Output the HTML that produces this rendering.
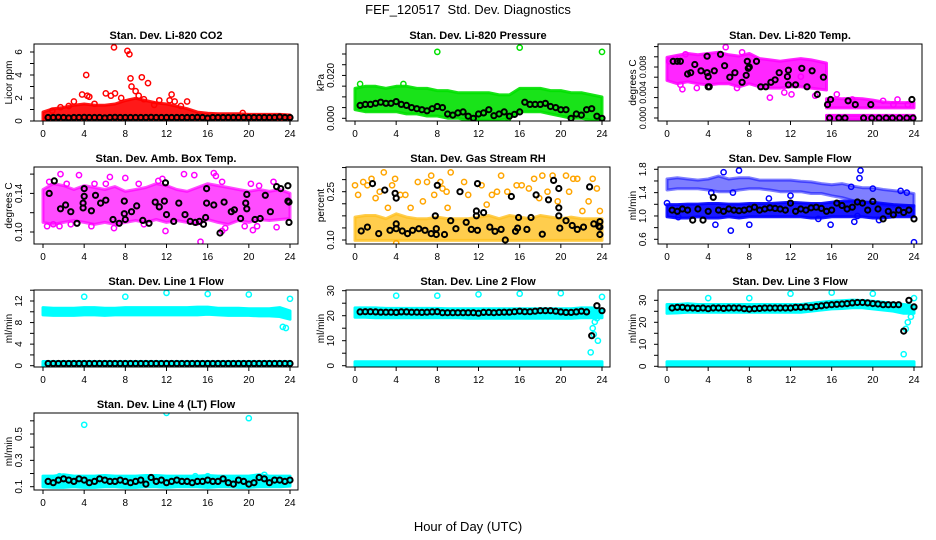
<!DOCTYPE html>
<html><head><meta charset="utf-8"><title>FEF_120517 Std. Dev. Diagnostics</title>
<style>
html,body{margin:0;padding:0;background:#fff;}
svg{display:block;font-family:"Liberation Sans",Arial,sans-serif;}
</style></head>
<body>
<svg id="chart" xmlns="http://www.w3.org/2000/svg" width="936" height="540" viewBox="0 0 936 540">
<rect x="0" y="0" width="936" height="540" fill="#fff"/>
<text x="468" y="14" text-anchor="middle" font-size="13" xml:space="preserve" style="white-space:pre">FEF_120517  Std. Dev. Diagnostics</text>
<text x="468" y="531" text-anchor="middle" font-size="13">Hour of Day (UTC)</text>
</svg>
<script>
// ---------- shared categories ----------
const HRS = [0,1,2,3,4,5,6,7,8,9,10,11,12,13,14,15,16,17,18,19,20,21,22,23,24];
const BX = [0.5,1,1.5,2,2.5,3,3.5,4,4.5,5,5.5,6,6.5,7,7.5,8,8.5,9,9.5,10,10.5,11,11.5,12,12.5,13,13.5,14,14.5,15,15.5,16,16.5,17,17.5,18,18.5,19,19.5,20,20.5,21,21.5,22,22.5,23,23.5,24];
const xTickLabels = [0,4,8,12,16,20,24];

// ---------- P1 CO2 ----------
const co2Lo = [0.1,0.1,0.1,0.1,0.1,0.1,0.1,0.1,0.1,0.1,0.1,0.1,0.1,0.1,0.1,0.1,0.1,0.1,0.1,0.1,0.1,0.1,0.1,0.1,0.1];
const co2Hi = [0.6,0.9,1.0,1.2,1.3,1.2,1.2,1.3,1.6,1.8,1.6,1.4,1.3,1.1,0.9,0.6,0.5,0.45,0.45,0.45,0.4,0.4,0.4,0.4,0.35];
const co2OutX = [6.9,8.2,8.4,4.2,8.5,9.6,10.2,8.6,3.8,4.3,4.5,6.1,7.0,7.6,9.0,9.3,11.3,12.5,12.3,12.8,14.0,3.0,6.6,19.4,1.7,5.0,9.8,13.4,2.5,0.9,10.8];
const co2OutY = [6.4,6.1,5.8,4.0,3.7,3.8,3.3,3.0,2.3,2.2,2.1,2.4,2.4,2.0,2.6,2.2,1.8,2.3,1.8,1.7,1.7,1.7,2.2,0.7,1.2,1.5,1.9,1.3,1.3,0.9,1.4];
const co2Black = [0.3,0.3,0.32,0.3,0.28,0.3,0.3,0.32,0.3,0.3,0.3,0.28,0.3,0.32,0.3,0.3,0.3,0.3,0.3,0.3,0.32,0.3,0.3,0.3,0.3,0.3,0.3,0.3,0.3,0.32,0.3,0.25,0.3,0.3,0.3,0.3,0.3,0.3,0.3,0.3,0.3,0.3,0.3,0.3,0.3,0.35,0.3,0.3];

// ---------- P2 Pressure ----------
const pressLo = [0.005,0.004,0.004,0.004,0.004,0.003,0.003,0.002,0.002,0.001,0.001,0.000,0.000,0.000,0.000,0.001,0.004,0.004,0.004,0.003,0.002,0.001,0.001,0.000,0.000];
const pressHi = [0.013,0.014,0.014,0.013,0.014,0.014,0.013,0.013,0.012,0.012,0.011,0.011,0.011,0.011,0.010,0.010,0.013,0.013,0.013,0.012,0.012,0.011,0.011,0.010,0.009];
const pressOutX = [8,16,24,0.5,4.7,14.9,11.8];
const pressOutY = [0.031,0.033,0.031,0.016,0.016,0.0,0.0];
const pressBlack = [0.006,0.0065,0.0065,0.007,0.0075,0.007,0.007,0.0078,0.0065,0.006,0.005,0.0045,0.004,0.0035,0.0045,0.0055,0.005,0.002,0.0015,0.0025,0.003,0.001,0.0,0.002,0.0025,0.004,0.0012,0.002,0.003,0.001,0.0018,0.003,0.0075,0.0065,0.0065,0.0065,0.007,0.0055,0.005,0.004,0.004,0.0,0.002,0.0015,0.004,0.0045,0.001,0.0];

// ---------- P3 Li-820 Temp ----------
const tempHrs = [0,1,2,3,4,5,6,7,8,9,10,11,12,13,14,15.5];
const tempHi = [0.0092,0.0095,0.0098,0.0096,0.0098,0.0100,0.0096,0.0094,0.0098,0.0090,0.0088,0.0086,0.0088,0.0090,0.0088,0.0083];
const tempLo = [0.0062,0.0057,0.0060,0.0057,0.0055,0.0057,0.0057,0.0052,0.0057,0.0052,0.0050,0.0050,0.0052,0.0052,0.0050,0.0047];
const tempLateHrs = [15.5,16,17,18,19,20,21,22,23,24];
const tempLateLo = [0.0019,0.0019,0.0019,0.0019,0.0019,0.0019,0.0019,0.0019,0.0019,0.0019];
const tempLateHi = [0.0027,0.0028,0.0027,0.0028,0.0027,0.0025,0.0022,0.0021,0.0021,0.0021];
const tempZeroLo = [0,0,0,0,0,0,0,0,0,0];
const tempZeroHi = [0.0001,0.0001,0.0001,0.0001,0.0001,0.0001,0.0001,0.0001,0.0001,0.0001];
const tempOutX = [5.7,0.2,1.3,1.5,2.9,6.8,10.0,11.4,12.1,13.0,14.4,16.5,22.4,18.0,21.0,23.4,22.0,1.8,7.3];
const tempOutY = [0.0111,0.0089,0.0052,0.0045,0.0047,0.0047,0.0032,0.0040,0.0037,0.0065,0.0035,0.0037,0.0029,0.0029,0.0027,0.0021,0.0021,0.0100,0.0103];
const tempBX = [0.6,1.0,1.3,2.0,2.3,2.7,3.3,3.9,3.9,4.0,4.0,4.1,4.6,5.2,5.6,6.1,6.6,7.3,7.7,7.8,7.9,8.0,8.7,9.1,9.6,10.1,10.5,10.9,11.7,11.8,11.8,12.5,13.1,13.6,14.1,14.6,15.2,15.6,15.9,15.8,16.7,17.3,17.6,18.3,19.1,19.8,19.9,20.6,21.3,21.9,22.6,23.3,23.8,23.9];
const tempBY = [0.0089,0.0089,0.0089,0.0069,0.0071,0.0084,0.0074,0.0097,0.0071,0.0065,0.0049,0.0049,0.0074,0.0100,0.0082,0.0064,0.0071,0.0056,0.0067,0.0089,0.0078,0.0080,0.0089,0.0049,0.0049,0.0056,0.0060,0.0071,0.0065,0.0075,0.0052,0.0052,0.0078,0.0049,0.0074,0.0037,0.0064,0.0021,0.0029,0,0,0,0.0027,0.0021,0,0.0021,0,0,0,0,0,0,0.0029,0];

// ---------- P4 Amb Box Temp ----------
const ambLo = [0.112,0.110,0.112,0.114,0.112,0.110,0.112,0.110,0.112,0.114,0.112,0.115,0.112,0.114,0.112,0.110,0.115,0.112,0.110,0.114,0.112,0.115,0.114,0.115,0.116];
const ambHi = [0.142,0.148,0.146,0.142,0.146,0.144,0.142,0.145,0.140,0.142,0.144,0.148,0.146,0.142,0.140,0.144,0.148,0.146,0.144,0.142,0.140,0.142,0.140,0.142,0.138];
const ambOutX = [0.6,1.7,2.3,3.5,5.0,6.1,6.5,8.0,9.3,11.2,11.6,13.7,14.7,16.6,16.8,17.4,20.2,21.0,22.4,0.4,1.0,1.6,4.7,6.9,11.9,15.3,17.4,17.7,19.6,20.4,20.8,22.7,2.7,9.8];
const ambOutY = [0.152,0.160,0.150,0.159,0.150,0.150,0.157,0.156,0.150,0.153,0.155,0.160,0.159,0.161,0.158,0.152,0.150,0.148,0.152,0.106,0.108,0.106,0.106,0.104,0.101,0.090,0.101,0.104,0.106,0.102,0.106,0.105,0.108,0.108];
const ambBX = [0.6,1.1,1.7,2.2,2.7,3.3,3.9,3.9,4.0,4.0,4.7,5.1,5.6,6.1,6.8,7.4,7.9,7.9,8.0,8.6,9.1,9.7,10.3,10.9,11.3,11.8,11.9,12.0,12.7,13.2,13.8,14.3,14.8,15.2,15.6,15.8,15.9,15.9,16.6,17.2,17.6,18.3,18.6,19.2,19.7,19.8,19.8,20.6,21.1,21.6,22.1,22.7,23.1,23.8,23.8,23.9,23.9];
const ambBY = [0.140,0.153,0.124,0.128,0.121,0.109,0.130,0.125,0.137,0.145,0.122,0.138,0.130,0.133,0.113,0.109,0.132,0.119,0.113,0.121,0.127,0.112,0.109,0.131,0.126,0.132,0.151,0.118,0.111,0.130,0.118,0.111,0.110,0.111,0.108,0.115,0.130,0.145,0.128,0.099,0.131,0.121,0.123,0.114,0.130,0.139,0.124,0.113,0.114,0.138,0.121,0.147,0.145,0.148,0.132,0.131,0.110];

// ---------- P5 Gas Stream RH ----------
const rhLo = [0.105,0.105,0.105,0.105,0.105,0.105,0.105,0.105,0.105,0.105,0.105,0.105,0.105,0.105,0.105,0.105,0.105,0.105,0.105,0.105,0.105,0.105,0.105,0.105,0.105];
const rhHi = [0.165,0.17,0.17,0.16,0.175,0.165,0.16,0.16,0.165,0.16,0.16,0.16,0.165,0.17,0.16,0.17,0.165,0.16,0.17,0.165,0.16,0.165,0.16,0.16,0.16];
const rhOutX = [0,0.3,0.8,1.2,1.6,2.0,2.4,2.8,3.2,3.6,3.9,4.4,4.9,5.4,6.1,6.6,7.0,7.4,7.7,8.3,8.5,8.9,9.3,9.0,10.6,11.0,12.3,12.8,13.3,13.8,14.2,14.8,15.4,15.7,16.2,16.9,17.4,17.9,18.2,18.7,19.2,19.7,20.5,20.8,21.2,21.6,22.1,22.7,23.1,23.5,23.8,4.0];
const rhOutY = [0.27,0.24,0.28,0.27,0.29,0.23,0.25,0.31,0.20,0.27,0.29,0.24,0.24,0.20,0.28,0.22,0.28,0.30,0.24,0.28,0.26,0.25,0.31,0.20,0.28,0.24,0.27,0.21,0.24,0.25,0.30,0.25,0.34,0.27,0.27,0.26,0.29,0.23,0.30,0.25,0.30,0.22,0.30,0.25,0.29,0.29,0.19,0.22,0.29,0.26,0.19,0.09];
const rhBX = [0.6,1.2,1.7,2.3,2.9,3.4,3.9,4.0,4.0,4.0,4.6,5.1,5.6,6.2,6.8,7.4,7.8,7.9,7.9,8.0,8.7,9.3,9.8,10.8,10.2,11.3,11.8,11.8,11.9,11.9,12.5,13.1,13.6,14.2,14.6,15.2,15.6,15.8,15.9,16.7,17.1,17.6,18.2,18.8,19.3,19.8,19.8,19.8,19.9,20.5,21.1,21.6,22.2,22.8,23.2,23.7,23.8,23.8,23.8];
const rhBY = [0.128,0.14,0.275,0.12,0.255,0.13,0.245,0.23,0.15,0.135,0.128,0.12,0.13,0.135,0.13,0.12,0.175,0.117,0.135,0.27,0.117,0.16,0.135,0.155,0.25,0.133,0.19,0.175,0.13,0.275,0.185,0.14,0.127,0.133,0.10,0.235,0.127,0.137,0.17,0.133,0.17,0.24,0.118,0.225,0.285,0.26,0.20,0.175,0.137,0.16,0.145,0.133,0.14,0.265,0.15,0.143,0.157,0.14,0.117];

// ---------- P6 Sample Flow ----------
const sfLo = [1.02,1.0,1.0,1.02,1.0,1.0,1.02,1.0,1.02,1.02,1.02,1.02,1.02,1.02,1.0,1.0,1.02,1.02,1.02,1.02,1.0,1.0,1.02,1.02,1.02];
const sfHi = [1.16,1.16,1.17,1.17,1.18,1.18,1.17,1.17,1.18,1.18,1.18,1.19,1.2,1.19,1.18,1.18,1.2,1.22,1.22,1.2,1.2,1.18,1.16,1.15,1.14];
const sfUpLo = [1.48,1.5,1.5,1.5,1.48,1.45,1.45,1.48,1.5,1.5,1.48,1.45,1.45,1.45,1.42,1.42,1.38,1.35,1.3,1.28,1.25,1.22,1.2,1.2,1.2];
const sfUpHi = [1.6,1.62,1.6,1.58,1.6,1.65,1.6,1.62,1.62,1.58,1.58,1.58,1.58,1.56,1.55,1.52,1.5,1.52,1.48,1.45,1.45,1.42,1.4,1.38,1.35];
const sfOutX = [6.2,8.0,4.7,15.9,24,7.0,18.8,5.5,18.7,0,18.2,18.5,20.6,12.0,6.4,4.3,20.0,22.7,1.1,9.9,14.7,17.9,23.3];
const sfOutY = [0.75,0.85,0.85,0.85,0.55,1.78,1.78,1.75,1.65,1.22,0.9,1.0,0.93,1.35,1.4,1.4,1.47,1.43,0.98,1.3,0.95,1.5,1.4];
const sfBlack = [1.1,1.08,1.12,1.1,0.93,1.12,0.93,1.08,1.32,1.1,1.08,1.12,1.1,1.09,1.1,1.12,1.15,1.1,1.12,1.14,1.13,1.12,1.1,1.22,1.08,1.12,1.1,1.14,1.15,1.13,1.08,1.1,1.22,1.18,1.12,1.15,1.24,1.22,1.1,1.25,1.12,0.95,1.08,1.02,1.1,1.06,1.1,0.95];

// ---------- P7 Line 1 Flow ----------
const l1Lo = [9.8,9.7,9.7,9.7,9.8,9.8,9.7,9.8,9.8,9.8,9.8,9.8,9.8,9.8,9.8,9.8,9.9,9.8,9.7,9.7,9.7,9.6,9.6,9.5,9.0];
const l1Hi = [10.4,10.3,10.3,10.3,10.4,10.4,10.3,10.3,10.4,10.4,10.4,10.4,10.4,10.4,10.4,10.5,10.5,10.3,10.3,10.3,10.2,10.2,10.2,10.4,9.8];
const l1BotLo = [0.2,0.2,0.2,0.2,0.2,0.2,0.2,0.2,0.2,0.2,0.2,0.2,0.2,0.2,0.2,0.2,0.2,0.2,0.2,0.2,0.2,0.2,0.2,0.2,0.2];
const l1BotHi = [0.4,0.4,0.4,0.4,0.4,0.4,0.4,0.4,0.4,0.4,0.4,0.4,0.4,0.4,0.4,0.4,0.4,0.4,0.4,0.4,0.4,0.4,0.4,0.4,0.4];
const l1OutX = [4,8,12,16,20,24,23.3,23.6,23.8,23.5];
const l1OutY = [12.8,12.8,13.5,13.3,13.2,12.4,7.2,7.0,9.4,9.7];
const l1Black = [0.4,0.4,0.4,0.4,0.4,0.4,0.4,0.4,0.4,0.4,0.4,0.4,0.4,0.4,0.4,0.4,0.4,0.4,0.4,0.4,0.4,0.4,0.4,0.4,0.4,0.4,0.4,0.4,0.4,0.4,0.4,0.4,0.4,0.4,0.4,0.4,0.4,0.4,0.4,0.4,0.4,0.4,0.4,0.4,0.4,0.4,0.4,0.4];

// ---------- P8 Line 2 Flow ----------
const l2Lo = [20.2,20.2,20.0,20.0,20.0,20.0,20.0,20.0,20.0,20.0,20.0,19.8,19.8,19.8,19.8,19.8,19.8,19.8,19.8,19.8,19.8,19.8,20.0,20.0,20.0];
const l2Hi = [22.3,22.3,22.3,22.1,22.1,22.1,22.1,22.1,22.1,22.0,22.0,22.0,22.0,22.0,22.0,22.0,22.0,22.0,22.0,22.0,22.0,22.0,22.3,22.3,21.8];
const l2BotLo = [0.2,0.2,0.2,0.2,0.2,0.2,0.2,0.2,0.2,0.2,0.2,0.2,0.2,0.2,0.2,0.2,0.2,0.2,0.2,0.2,0.2,0.2,0.2,0.2,0.2];
const l2BotHi = [0.8,0.8,0.8,0.8,0.8,0.8,0.8,0.8,0.8,0.8,0.8,0.8,0.8,0.8,0.8,0.8,0.8,0.8,0.8,0.8,0.8,0.8,0.8,0.8,0.8];
const l2OutX = [4,8,12,16,20,24,22.9,23.6,23.2,23.1,23.3,23.5];
const l2OutY = [28,28,28.5,28.8,29,27.5,5.3,10,12.5,15,17.5,19];
const l2Black = [21.5,21.6,21.6,21.5,21.4,21.4,21.4,21.3,21.5,21.5,21.4,21.4,21.3,21.4,21.5,21.6,21.2,21.2,21.2,21.2,21.2,21.2,21.2,21.0,21.3,21.3,21.2,21.3,21.4,21.4,21.6,21.8,21.6,21.6,21.8,22.0,22.0,22.0,21.8,21.5,21.3,21.3,21.5,21.8,21.5,12.0,24.0,22.0];

// ---------- P9 Line 3 Flow ----------
const l3Lo = [25,25.2,25.5,25.5,25.5,25.5,25.5,25.5,25.5,25.5,25.5,25.5,25.5,25.5,26,26.5,27,27.2,27.5,27.5,27,26.5,26,25,25];
const l3Hi = [27.2,27.2,27.5,27.2,27.2,27.2,27.2,27.2,27.2,27.2,27.2,27.2,27.2,27.2,27.7,28.2,28.7,28.9,29.2,29.0,28.7,28.2,27.7,27.2,26.7];
const l3BotLo = [0.3,0.3,0.3,0.3,0.3,0.3,0.3,0.3,0.3,0.3,0.3,0.3,0.3,0.3,0.3,0.3,0.3,0.3,0.3,0.3,0.3,0.3,0.3,0.3,0.3];
const l3BotHi = [1.2,1.2,1.2,1.2,1.2,1.2,1.2,1.2,1.2,1.2,1.2,1.2,1.2,1.2,1.2,1.2,1.2,1.2,1.2,1.2,1.2,1.2,1.2,1.2,1.2];
const l3OutX = [4,8,12,16,20,24,23,23.2,23.4,23.7];
const l3OutY = [31,31,33,33.5,33,31,5.5,17,20,22.5];
const l3Black = [26.5,26.8,26.8,26.5,26.5,26.3,26.5,26.2,26.5,26.5,26.3,26.5,26.5,26.5,26.2,26.0,26.2,26.3,26.5,26.5,26.5,26.5,26.5,26.5,26.8,26.8,27.0,26.8,27.2,27.5,27.8,28.0,28.2,28.3,28.5,28.8,29.0,29.0,28.8,28.5,28.3,28.0,28.0,28.0,28.0,16.0,30.0,27.0];

// ---------- P10 Line 4 (LT) Flow ----------
const l4Lo = [0.115,0.11,0.11,0.115,0.11,0.11,0.115,0.115,0.11,0.11,0.115,0.115,0.11,0.115,0.115,0.115,0.11,0.115,0.115,0.11,0.11,0.115,0.115,0.115,0.12];
const l4Hi = [0.165,0.165,0.175,0.165,0.165,0.165,0.17,0.165,0.165,0.165,0.17,0.17,0.165,0.165,0.165,0.165,0.17,0.165,0.165,0.165,0.165,0.175,0.165,0.165,0.165];
const l4OutX = [4,12,20,21.5,1.6,16,14.8];
const l4OutY = [0.57,0.66,0.62,0.19,0.18,0.18,0.18];
const l4Black = [0.14,0.13,0.15,0.16,0.15,0.14,0.16,0.15,0.13,0.14,0.16,0.15,0.14,0.14,0.15,0.14,0.13,0.14,0.15,0.12,0.17,0.14,0.15,0.13,0.14,0.15,0.14,0.14,0.13,0.14,0.14,0.15,0.14,0.14,0.16,0.13,0.12,0.15,0.14,0.12,0.13,0.17,0.16,0.13,0.15,0.15,0.14,0.15];

const NS = "http://www.w3.org/2000/svg";
const svg = document.getElementById("chart");
function mk(tag, attrs, parent){
  const e = document.createElementNS(NS, tag);
  for (const k in attrs) e.setAttribute(k, attrs[k]);
  (parent||svg).appendChild(e);
  return e;
}
const panels = [
 {id:"co2", c:0,r:0,title:"Stan. Dev. Li-820 CO2", ylab:"Licor ppm", v0:0,p0:121,v1:6,p1:52, tStart:0,tStep:1,tN:7, labels:[0,2,4,6], dec:0, fs:10},
 {id:"pressure", c:1,r:0,title:"Stan. Dev. Li-820 Pressure", ylab:"kPa", v0:0,p0:118.3,v1:0.03,p1:54, tStart:0,tStep:0.005,tN:7, labels:[0,0.02], dec:3, fs:10},
 {id:"li820-temp", c:2,r:0,title:"Stan. Dev. Li-820 Temp.", ylab:"degrees C", v0:0,p0:118,v1:0.008,p1:67, tStart:0,tStep:0.0016,tN:8, labels:[0,0.004,0.008], dec:3, fs:9},
 {id:"amb-box-temp", c:0,r:1,title:"Stan. Dev. Amb. Box Temp.", ylab:"degrees C", v0:0.10,p0:232,v1:0.14,p1:193.4, tStart:0.10,tStep:0.02,tN:4, labels:[0.10,0.14], dec:2, fs:10},
 {id:"gas-rh", c:1,r:1,title:"Stan. Dev. Gas Stream RH", ylab:"percent", v0:0.10,p0:240,v1:0.25,p1:191.7, tStart:0.10,tStep:0.0375,tN:7, labels:[0.10,0.25], dec:2, fs:10},
 {id:"sample-flow", c:2,r:1,title:"Stan. Dev. Sample Flow", ylab:"ml/min", v0:0.6,p0:239.3,v1:1.8,p1:169.3, tStart:0.6,tStep:0.2,tN:7, labels:[0.6,1.0,1.4,1.8], dec:1, fs:10},
 {id:"line1-flow", c:0,r:2,title:"Stan. Dev. Line 1 Flow", ylab:"ml/min", v0:0,p0:365.7,v1:12,p1:301, tStart:0,tStep:2,tN:8, labels:[0,4,8,12], dec:0, fs:10},
 {id:"line2-flow", c:1,r:2,title:"Stan. Dev. Line 2 Flow", ylab:"ml/min", v0:0,p0:365.7,v1:30,p1:290.7, tStart:0,tStep:5,tN:7, labels:[0,10,20,30], dec:0, fs:10},
 {id:"line3-flow", c:2,r:2,title:"Stan. Dev. Line 3 Flow", ylab:"ml/min", v0:0,p0:366.3,v1:30,p1:300.3, tStart:0,tStep:5,tN:7, labels:[0,10,20,30], dec:0, fs:10},
 {id:"line4-flow", c:0,r:3,title:"Stan. Dev. Line 4 (LT) Flow", ylab:"ml/min", v0:0.1,p0:486.7,v1:0.5,p1:434, tStart:0.1,tStep:0.1,tN:6, labels:[0.1,0.3,0.5], dec:1, fs:10}
];
function sx(p,h){ return 43+312*p.c + h*247/24; }
function sy(p,v){ return p.p0 + (v-p.v0)*(p.p1-p.p0)/(p.v1-p.v0); }

function drawBand(p, g, xs, lo, hi, color, op, name){
  const n = Math.min(xs.length, lo.length, hi.length);
  let pts = [];
  for (let i=0;i<n;i++) pts.push(sx(p,xs[i]).toFixed(1)+","+(sy(p,hi[i])-2).toFixed(1));
  for (let i=n-1;i>=0;i--) pts.push(sx(p,xs[i]).toFixed(1)+","+(sy(p,lo[i])+2).toFixed(1));
  const e = mk("polygon",{points:pts.join(" "),fill:color,"fill-opacity":op,stroke:color,"stroke-width":3,"stroke-linejoin":"round","stroke-opacity":op},g);
  
  
}
function drawPoints(p, g, xs, ys, color, name, sw){
  const n = Math.min(xs.length, ys.length);
  for (let i=0;i<n;i++){
    const e = mk("circle",{cx:sx(p,xs[i]).toFixed(1),cy:sy(p,ys[i]).toFixed(1),r:2.6,fill:"none",stroke:color,"stroke-width":sw||1.5},g);
    
    
  }
}

const RED="#ff0000", GRN="#00e000", MAG="#ff00ff", BLU="#0000ff", CYN="#00ffff", ORG="#ffa500", YEL="#ffc020", BLK="#000000";

panels.forEach(p=>{
  const L=34+312*p.c, R=298+312*p.c, T=44+123*p.r, B=121+123*p.r;
  const g = mk("g",{});
  
  
  const t = mk("text",{x:(L+R)/2,y:T-5,"text-anchor":"middle","font-size":11,"font-weight":"bold"},g);
  t.textContent = p.title;
  
  
  const yl = mk("text",{x:0,y:0,transform:"translate("+(L-22)+","+((T+B)/2)+") rotate(-90)","text-anchor":"middle","font-size":10},g);
  yl.textContent = p.ylab;
  
  
  const cp = mk("clipPath",{id:"clip-"+p.id},g);
  mk("rect",{x:L,y:T,width:R-L,height:B-T},cp);
  const plot = mk("g",{"clip-path":"url(#clip-"+p.id+")"},g);
  
  
  p.plot = plot;
  xTickLabels.forEach(h=>{
    const x = sx(p,h);
    const tk = mk("line",{x1:x,y1:B,x2:x,y2:B+4,stroke:"#000","stroke-width":1},g);
    
    
    const tl = mk("text",{x:x,y:B+16,"text-anchor":"middle","font-size":10},g);
    tl.textContent = String(h);
    
    
  });
  for (let k=0;k<p.tN;k++){
    const v = p.tStart + k*p.tStep;
    const y = sy(p,v);
    if (y < T-1 || y > B+3) continue;
    const tk = mk("line",{x1:L-4,y1:y,x2:L,y2:y,stroke:"#000","stroke-width":1},g);
    
    
  }
  p.labels.forEach(v=>{
    const y = sy(p,v);
    const tl = mk("text",{x:0,y:0,transform:"translate("+(L-12)+","+y.toFixed(1)+") rotate(-90)","text-anchor":"middle","font-size":p.fs},g);
    tl.textContent = v.toFixed(p.dec);
    
    
  });
  const box = mk("rect",{x:L,y:T,width:R-L,height:B-T,fill:"none",stroke:"#000","stroke-width":1},g);
  
  
});

const P = {}; panels.forEach(p=>P[p.id]=p);
function pl(id){ return P[id].plot; }

drawBand(P["co2"], pl("co2"), HRS, co2Lo, co2Hi, RED, 0.9, "co2-band");
drawPoints(P["co2"], pl("co2"), co2OutX, co2OutY, RED, "co2-point");
drawPoints(P["co2"], pl("co2"), BX, co2Black, BLK, "co2-mean-point", 2);

drawBand(P["pressure"], pl("pressure"), HRS, pressLo, pressHi, GRN, 0.9, "pressure-band");
drawPoints(P["pressure"], pl("pressure"), pressOutX, pressOutY, GRN, "pressure-point");
drawPoints(P["pressure"], pl("pressure"), BX, pressBlack, BLK, "pressure-mean-point", 2);

drawBand(P["li820-temp"], pl("li820-temp"), tempHrs, tempLo, tempHi, MAG, 0.85, "temp-band");
drawBand(P["li820-temp"], pl("li820-temp"), tempLateHrs, tempLateLo, tempLateHi, MAG, 0.85, "temp-late-band");
drawBand(P["li820-temp"], pl("li820-temp"), tempLateHrs, tempZeroLo, tempZeroHi, MAG, 0.9, "temp-zero-band");
drawPoints(P["li820-temp"], pl("li820-temp"), tempOutX, tempOutY, MAG, "temp-point");
drawPoints(P["li820-temp"], pl("li820-temp"), tempBX, tempBY, BLK, "temp-mean-point", 2);

drawBand(P["amb-box-temp"], pl("amb-box-temp"), HRS, ambLo, ambHi, MAG, 0.7, "amb-band");
drawPoints(P["amb-box-temp"], pl("amb-box-temp"), ambOutX, ambOutY, MAG, "amb-point");
drawPoints(P["amb-box-temp"], pl("amb-box-temp"), ambBX, ambBY, BLK, "amb-mean-point", 2);

drawBand(P["gas-rh"], pl("gas-rh"), HRS, rhLo, rhHi, YEL, 0.8, "rh-band");
drawPoints(P["gas-rh"], pl("gas-rh"), rhOutX, rhOutY, ORG, "rh-point");
drawPoints(P["gas-rh"], pl("gas-rh"), rhBX, rhBY, BLK, "rh-mean-point", 2);

drawBand(P["sample-flow"], pl("sample-flow"), HRS, sfLo, sfHi, BLU, 0.9, "flow-band");
drawBand(P["sample-flow"], pl("sample-flow"), HRS, sfUpLo, sfUpHi, BLU, 0.5, "flow-upper-band");
drawPoints(P["sample-flow"], pl("sample-flow"), sfOutX, sfOutY, BLU, "flow-point");
drawPoints(P["sample-flow"], pl("sample-flow"), BX, sfBlack, BLK, "flow-mean-point", 2);

drawBand(P["line1-flow"], pl("line1-flow"), HRS, l1Lo, l1Hi, CYN, 1, "line1-band");
drawBand(P["line1-flow"], pl("line1-flow"), HRS, l1BotLo, l1BotHi, CYN, 1, "line1-bottom-band");
drawPoints(P["line1-flow"], pl("line1-flow"), l1OutX, l1OutY, CYN, "line1-point");
drawPoints(P["line1-flow"], pl("line1-flow"), BX, l1Black, BLK, "line1-mean-point", 2);

drawBand(P["line2-flow"], pl("line2-flow"), HRS, l2Lo, l2Hi, CYN, 1, "line2-band");
drawBand(P["line2-flow"], pl("line2-flow"), HRS, l2BotLo, l2BotHi, CYN, 1, "line2-bottom-band");
drawPoints(P["line2-flow"], pl("line2-flow"), l2OutX, l2OutY, CYN, "line2-point");
drawPoints(P["line2-flow"], pl("line2-flow"), BX, l2Black, BLK, "line2-mean-point", 2);

drawBand(P["line3-flow"], pl("line3-flow"), HRS, l3Lo, l3Hi, CYN, 1, "line3-band");
drawBand(P["line3-flow"], pl("line3-flow"), HRS, l3BotLo, l3BotHi, CYN, 1, "line3-bottom-band");
drawPoints(P["line3-flow"], pl("line3-flow"), l3OutX, l3OutY, CYN, "line3-point");
drawPoints(P["line3-flow"], pl("line3-flow"), BX, l3Black, BLK, "line3-mean-point", 2);

drawBand(P["line4-flow"], pl("line4-flow"), HRS, l4Lo, l4Hi, CYN, 1, "line4-band");
drawPoints(P["line4-flow"], pl("line4-flow"), l4OutX, l4OutY, CYN, "line4-point");
drawPoints(P["line4-flow"], pl("line4-flow"), BX, l4Black, BLK, "line4-mean-point", 2);
</script>
</body></html>
